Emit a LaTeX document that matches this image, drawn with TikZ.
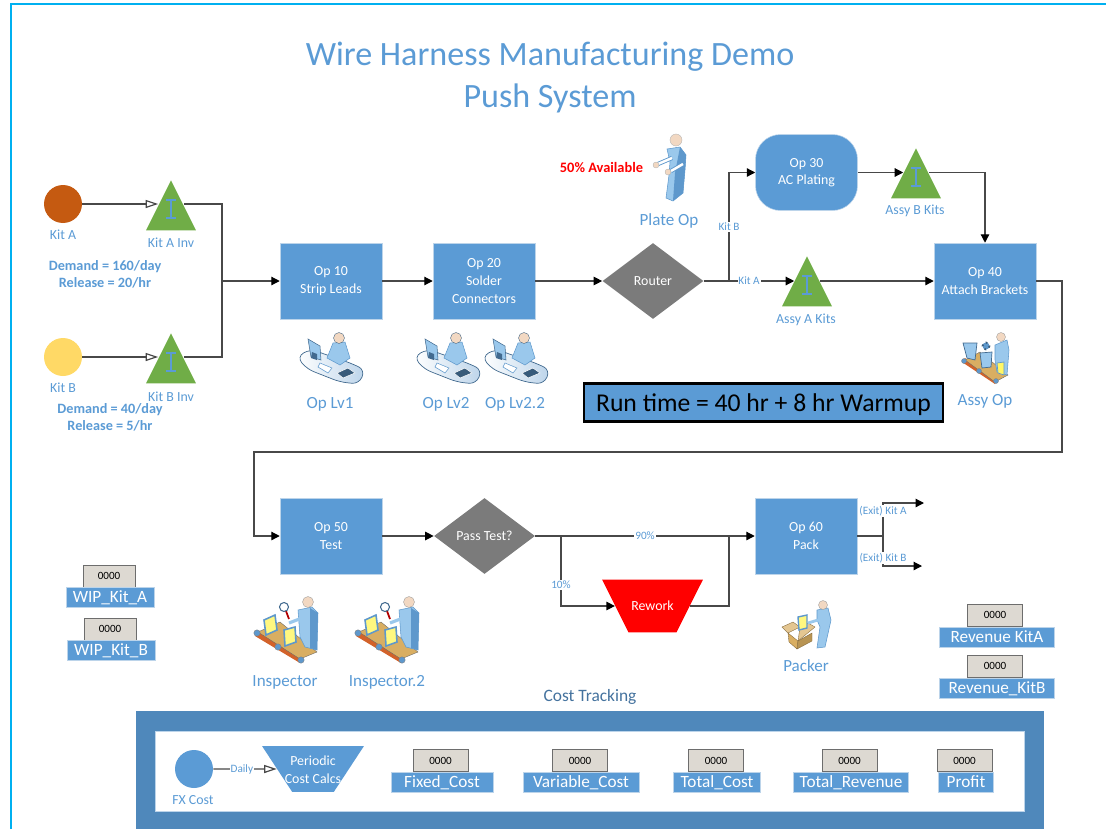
\documentclass[tikz,border=0pt]{standalone}
\usepackage{fontspec}
\setmainfont{Carlito}
\usetikzlibrary{arrows.meta,shapes.geometric}
\definecolor{opblue}{HTML}{5B9BD5}
\definecolor{panelblue}{HTML}{4F88BB}
\definecolor{edgeblue}{HTML}{BCD4EA}
\definecolor{costblue}{HTML}{44729E}
\definecolor{invgreen}{HTML}{70AD47}
\definecolor{decgrey}{HTML}{7B7B7B}
\definecolor{valgrey}{HTML}{DDD9D2}
\definecolor{wireblack}{HTML}{484848}
\definecolor{skin}{HTML}{F2D8C2}
\definecolor{bodyblue}{HTML}{9AC8EC}
\definecolor{bodydark}{HTML}{5E98CC}
\definecolor{belttan}{HTML}{D9AE62}
\definecolor{beltred}{HTML}{D2622A}
\tikzset{
    opbox/.style={draw=edgeblue, line width=0.3pt, fill=opblue, text=white, align=center, inner sep=0pt, minimum width=2.04cm, minimum height=1.52cm, font=\fontsize{7.9}{10}\selectfont},
    decbox/.style={diamond, fill=decgrey, text=white, inner sep=0pt, minimum width=2.02cm, minimum height=1.52cm, font=\fontsize{7.9}{10}\selectfont},
    invtri/.style={isosceles triangle, isosceles triangle apex angle=53.13, shape border rotate=90, fill=invgreen, inner sep=0pt, minimum height=1cm, anchor=apex},
    srcdot/.style={circle, inner sep=0pt, minimum size=0.76cm},
    trapbox/.style={trapezium, shape border rotate=180, inner sep=0pt},
    lab/.style={text=opblue, inner sep=0pt, font=\fontsize{7.9}{9.4}\selectfont},
    biglab/.style={text=opblue, inner sep=0pt, font=\fontsize{9.7}{11.6}\selectfont},
    note/.style={text=opblue, inner sep=0pt, align=center, font=\bfseries\fontsize{8.1}{9.7}\selectfont},
    edgelab/.style={fill=white, text=opblue, inner sep=0.5pt, font=\fontsize{6.4}{7.5}\selectfont},
    valbox/.style={draw=wireblack!80, line width=0.5pt, fill=valgrey, inner sep=0pt, minimum width=1.1cm, minimum height=0.44cm, font=\fontsize{6.3}{7.5}\selectfont},
    varname/.style={draw=edgeblue, line width=0.3pt, fill=opblue, text=white, inner sep=0pt, minimum height=0.4cm, text height=6.5pt, text depth=0.5pt, font=\fontsize{9.8}{11}\selectfont},
    wire/.style={draw=wireblack, line width=0.7pt},
    flow/.style={wire, -{Triangle[black,length=0.17cm,width=0.17cm]}},
    openflow/.style={wire, -{Triangle[open,fill=white,length=0.25cm,width=0.16cm]}},
    person/.style={fill=bodyblue, draw=bodydark, line width=0.3pt},
    ibeam/.pic={
        \draw[opblue, line width=0.8pt] (-5,-9) -- (5,-9) (0,-9) -- (0,9) (-5,9) -- (5,9);
    },
    deskop/.pic={
        \draw[left color=white, right color=edgeblue, draw=bodydark!70!black, line width=0.4pt, rounded corners=4pt] (-34,-3) -- (-21,-11) -- (22,4) -- (34,10) -- (28,24) -- (9,22) -- (-24,9) -- cycle;
        \draw[fill=bodyblue, draw=bodydark!70!black, line width=0.3pt] (-23,-21) -- (-11,-14) -- (-10,0) -- (-20,-3) -- cycle;
        \fill[bodydark!70!black] (-19,-8) -- (-14,-6) -- (-14,0) -- (-20,-2) -- cycle;
        \draw[person] (2,-17) -- (14,-18) -- (19,-2) -- (9,5) -- (-4,-2) -- cycle;
        \draw[fill=skin, draw=bodydark!60!black, line width=0.2pt] (8,-22) circle (5.5);
        \draw[fill=white, draw=bodydark, line width=0.3pt] (-11,3) -- (1,8) -- (-3,13) -- (-13,7) -- cycle;
        \draw[fill=bodydark!60!black, draw=white, line width=0.3pt] (6,13) -- (17,8) -- (24,13) -- (12,18) -- cycle;
    },
    inspector/.pic={
        \fill[beltred] (-31,6) -- (14,33) -- (17,28) -- (-28,2) -- cycle;
        \draw[fill=belttan, draw=black!60, line width=0.2pt] (-28,2) -- (-6,-8) -- (31,22) -- (14,29) -- cycle;
        \foreach \rx/\ry in {-29/3, -8/17, 15/30} {\draw[fill=bodydark, draw=black!50, line width=0.2pt] (\rx,\ry) circle (3.2);}
        \draw[fill=yellow!50, draw=bodydark, line width=0.9pt] (-22,-10) -- (-11,-15) -- (-9,0) -- (-20,5) -- cycle;
        \draw[fill=yellow!50, draw=bodydark, line width=0.9pt] (-2,0) -- (9,-3) -- (10,12) -- (-1,16) -- cycle;
        \draw[person] (12,-20) -- (26,-23) -- (32,-17) -- (31,20) -- (19,17) -- (14,7) -- cycle;
        \fill[bodydark] (24,-22) -- (32,-17) -- (31,20) -- (24,18) -- cycle;
        \draw[bodyblue, line width=1.8pt] (16,-12) -- (3,-7);
        \draw[fill=skin, draw=black!40, line width=0.2pt] (22,-28) circle (5.5);
        \draw[red!70!black, line width=1pt] (0,-19) -- (3,-11);
        \draw[fill=white, draw=bodydark!70!black, line width=0.6pt] (-2,-23) circle (4.5);
    },
    assyworker/.pic={
        \fill[beltred] (-24,2) -- (9,24) -- (11,20) -- (-21,-2) -- cycle;
        \draw[fill=belttan, draw=black!60, line width=0.2pt] (-21,0) -- (-6,-8) -- (22,15) -- (9,22) -- cycle;
        \foreach \rx/\ry in {-22/1, -7/11, 10/21} {\draw[fill=bodydark, draw=black!50, line width=0.2pt] (\rx,\ry) circle (2.5);}
        \draw[fill=bodyblue, draw=bodydark!70!black, line width=0.4pt] (-23,-17) -- (-9,-17) -- (-11,0) -- (-19,-2) -- cycle;
        \draw[fill=bodyblue, draw=bodydark!70!black, line width=0.4pt] (-6,-7) -- (6,-8) -- (5,7) -- (-4,8) -- cycle;
        \draw[fill=bodydark, draw=bodydark!60!black, line width=1pt, dotted] (0,-14) circle (3.5);
        \draw[person] (9,-15) -- (21,-20) -- (23,-10) -- (21,15) -- (11,12) -- (9,0) -- cycle;
        \draw[fill=yellow!60, draw=bodydark, line width=0.4pt] (11,3) -- (18,2) -- (18,15) -- (12,13) -- cycle;
        \draw[fill=skin, draw=black!40, line width=0.2pt] (15,-23) circle (4.5);
    },
    packer/.pic={
        \fill[belttan!70!white, draw=belttan!60!black, line width=0.2pt] (-26,-3) -- (-15,-8) -- (-8,-3) -- (-20,3) -- cycle;
        \fill[belttan!70!white, draw=belttan!60!black, line width=0.2pt] (-8,-3) -- (0,-7) -- (7,-3) -- (-10,11) -- cycle;
        \fill[belttan, draw=belttan!60!black, line width=0.2pt] (-20,3) -- (-10,11) -- (-11,19) -- (-19,12) -- cycle;
        \fill[belttan!85!black, draw=belttan!60!black, line width=0.2pt] (-10,11) -- (4,3) -- (4,11) -- (-11,19) -- cycle;
        \draw[fill=yellow!50, draw=bodydark, line width=0.8pt] (-10,-13) -- (-1,-15) -- (-1,-2) -- (-9,0) -- cycle;
        \draw[person] (9,-20) -- (20,-22) -- (23,-10) -- (17,17) -- (9,18) -- (12,-3) -- (9,-10) -- cycle;
        \draw[bodyblue, line width=1.6pt] (10,-10) -- (0,-7);
        \draw[fill=skin, draw=black!40, line width=0.2pt] (15,-25) circle (4.5);
    },
    standing/.pic={
        \draw[person] (-1,-19) -- (12,-21) -- (18,-13) -- (17,2) -- (15,25) -- (5,33) -- (-2,30) -- (1,7) -- (2,-6) -- cycle;
        \fill[bodydark] (12,-21) -- (18,-13) -- (17,2) -- (15,25) -- (5,33) -- (7,5) -- cycle;
        \draw[bodydark, line width=2.4pt] (4,-10) -- (-10,-4) (15,-4) -- (3,3);
        \draw[white, line width=1.4pt] (4,-10) -- (-10,-4) (15,-4) -- (3,3);
        \fill[skin, draw=black!30, line width=0.2pt] (-12,-3) circle (3) (0,4) circle (3);
        \draw[fill=skin, draw=black!30, line width=0.2pt] (8,-28) circle (6);
    }
}
\begin{document}
\begin{tikzpicture}[x=0.02cm,y=-0.02cm]
    \useasboundingbox (0,0) rectangle (1106,829);
    \draw[color={rgb,255:red,0;green,176;blue,240}, line width=1.2pt] (11,829) -- (11,4) -- (1106,4);

    \node[text=opblue, align=center, inner sep=0pt, font=\fontsize{19.4}{24.1}\selectfont] (title) at (550,77.5) {Wire Harness Manufacturing Demo\\Push System};

    % sources and raw material
    \node[srcdot, fill={rgb,255:red,197;green,90;blue,17}] (kita) at (63,204) {};
    \node[lab] (kitalab) at (63,235) {Kit A};
    \node[invtri] (kitainv) at (171,179.5) {};
    \pic at (171,209) {ibeam};
    \node[lab] (kitainvlab) at (171,243) {Kit A Inv};
    \node[note] (kitanote) at (105,274.5) {Demand = 160/day\\Release = 20/hr};
    \node[srcdot, fill={rgb,255:red,255;green,217;blue,102}] (kitb) at (63,357) {};
    \node[lab] (kitblab) at (63,388) {Kit B};
    \node[invtri] (kitbinv) at (171,332.5) {};
    \pic at (171,362) {ibeam};
    \node[lab] (kitbinvlab) at (171,397) {Kit B Inv};
    \node[note] (kitbnote) at (110,417.5) {Demand = 40/day\\Release = 5/hr};
    \coordinate (merge) at (222,281);

    % first row
    \node[opbox] (op10) at (331,281) {Op 10\\Strip Leads};
    \node[opbox] (op20) at (484,281) {Op 20\\Solder\\Connectors};
    \node[decbox] (router) at (653,281) {Router};
    \node[invtri] (assyakits) at (807,255.5) {};
    \pic at (807,285) {ibeam};
    \node[lab] (assyakitslab) at (806,320) {Assy A Kits};
    \node[opbox] (op40) at (985,281) {Op 40\\Attach Brackets};
    \node[opbox, rounded corners=0.5cm] (op30) at (806.5,172.5) {Op 30\\AC Plating};
    \node[invtri] (assybkits) at (916,147.5) {};
    \pic at (916,177) {ibeam};
    \node[lab] (assybkitslab) at (915,211) {Assy B Kits};
    \coordinate (routesplit) at (729,281);

    % resources
    \pic (plateop) at (668,168) {standing};
    \node[biglab] (plateoplab) at (669,221) {Plate Op};
    \node[text=red, inner sep=0pt, font=\bfseries\fontsize{8.2}{9}\selectfont] (avail) at (601.5,168) {50\% Available};
    \pic (oplvone) at (331,360) {deskop};
    \node[biglab] (oplvonelab) at (330,404) {Op Lv1};
    \pic (oplvtwo) at (448,360) {deskop};
    \node[biglab] (oplvtwolab) at (446,404) {Op Lv2};
    \pic (oplvtwob) at (516,360) {deskop};
    \node[biglab] (oplvtwoblab) at (515,404) {Op Lv2.2};
    \pic (assyop) at (986,360) {assyworker};
    \node[biglab] (assyoplab) at (985,401) {Assy Op};
    \node[draw=black, line width=1.2pt, fill=opblue, inner sep=0pt, minimum width=7.18cm, minimum height=0.76cm, text height=11pt, text depth=1pt, font=\fontsize{14.6}{17}\selectfont] (runtime) at (763.5,402.5) {Run time = 40 hr + 8 hr Warmup};

    % second row
    \coordinate (wrapright) at (1062,452);
    \coordinate (wrapleft) at (254,452);
    \node[opbox] (op50) at (331,536) {Op 50\\Test};
    \node[decbox] (passtest) at (484.5,536) {Pass Test?};
    \node[opbox] (op60) at (806,536) {Op 60\\Pack};
    \node[trapbox, trapezium angle=63.4, fill=red, minimum width=2.02cm, minimum height=1cm] (rework) at (652.5,606) {\phantom{x}};
    \node[text=white, inner sep=0pt, font=\fontsize{7.9}{10}\selectfont] (reworktext) at (652.5,605.5) {Rework};
    \coordinate (failsplit) at (561,536);
    \coordinate (failjoin) at (729,536);
    \coordinate (exitsplit) at (883,536);
    \coordinate (exita) at (924,503);
    \coordinate (exitb) at (922,566);
    \pic (inspone) at (286,630) {inspector};
    \node[biglab] (insponelab) at (285,682) {Inspector};
    \pic (insptwo) at (387,630) {inspector};
    \node[biglab] (insptwolab) at (387,682) {Inspector.2};
    \pic (pack) at (808,630) {packer};
    \node[biglab] (packlab) at (806,665.5) {Packer};

    % tallies
    \node[valbox, minimum width=1.04cm] (wipaval) at (109,576) {0000};
    \node[varname, minimum width=1.76cm] (wipaname) at (110,597) {WIP\_Kit\_A};
    \node[valbox, minimum width=1.04cm] (wipbval) at (110,629) {0000};
    \node[varname, minimum width=1.76cm] (wipbname) at (111,650) {WIP\_Kit\_B};
    \node[valbox] (revaval) at (995,615) {0000};
    \node[varname, minimum width=2.3cm] (revaname) at (997,637) {Revenue KitA};
    \node[valbox] (revbval) at (995,666) {0000};
    \node[varname, minimum width=2.3cm] (revbname) at (997,688) {Revenue\_KitB};

    % cost panel
    \node[text=costblue, inner sep=0pt, font=\fontsize{9.9}{11}\selectfont] (costtitle) at (590,696.5) {Cost Tracking};
    \fill[panelblue] (136,711) rectangle (1044,829);
    \draw[draw=edgeblue, line width=0.3pt, fill=white] (155.5,731) rectangle (1024,811);
    \node[srcdot, fill=opblue] (fxcost) at (194,769) {};
    \node[lab] (fxcostlab) at (193,800) {FX Cost};
    \node[trapbox, trapezium angle=56.7, fill=opblue, minimum width=2.04cm, minimum height=0.76cm] (calcs) at (313,769) {\phantom{x}};
    \node[text=white, align=center, inner sep=0pt, font=\fontsize{7.9}{10}\selectfont] (calcstext) at (313,769.5) {Periodic\\Cost Calcs};
    \node[valbox] (fixedval) at (440.5,760.5) {0000};
    \node[varname, minimum width=2.04cm] (fixedname) at (442,782) {Fixed\_Cost};
    \node[valbox] (varval) at (580,760.5) {0000};
    \node[varname, minimum width=2.32cm] (varname) at (581,782) {Variable\_Cost};
    \node[valbox] (totalval) at (716,760.5) {0000};
    \node[varname, minimum width=1.74cm] (totalname) at (717,782) {Total\_Cost};
    \node[valbox] (trevval) at (849.5,760.5) {0000};
    \node[varname, minimum width=2.3cm] (trevname) at (851,782) {Total\_Revenue};
    \node[valbox] (profitval) at (964.5,760.5) {0000};
    \node[varname, minimum width=1.1cm] (profitname) at (966,782) {Profit};

    % connectors
    \draw[openflow] (kita) -- (kita -| kitainv.left side);
    \draw[openflow] (kitb) -- (kitb -| kitbinv.left side);
    \draw[wire] (kita -| kitainv.right side) -| (merge);
    \draw[wire] (kitb -| kitbinv.right side) -| (merge);
    \draw[flow] (merge) -- (op10);
    \draw[flow] (op10) -- (op20);
    \draw[flow] (op20) -- (router);
    \draw[flow] (router) -- node[edgelab, pos=0.5] (kitaedge) {Kit A} (router -| assyakits.left side);
    \draw[flow] (routesplit) |- node[edgelab, pos=0.25] (kitbedge) {Kit B} (op30);
    \draw[flow] (op30) -- (op30 -| assybkits.left side);
    \draw[flow] (op30 -| assybkits.right side) -| (op40);
    \draw[flow] (op40 -| assyakits.right side) -- (op40);
    \draw[flow] (op40) -| (wrapright) -- (wrapleft) |- (op50);
    \draw[flow] (op50) -- (passtest);
    \draw[flow] (passtest) -- node[edgelab, pos=0.5] (passedge) {90\%} (op60);
    \draw[flow] (failsplit) |- node[edgelab, pos=0.35] (failedge) {10\%} (rework);
    \draw[wire] (rework) -| (failjoin);
    \draw[wire] (op60) -- (exitsplit);
    \draw[flow] (exitsplit) |- node[edgelab, pos=0.38] (exitaedge) {(Exit) Kit A} (exita);
    \draw[flow] (exitsplit) |- node[edgelab, pos=0.37] (exitbedge) {(Exit) Kit B} (exitb);
    \draw[openflow] (fxcost) -- node[edgelab, pos=0.45] (dailyedge) {Daily} (calcs);
\end{tikzpicture}
\end{document}
